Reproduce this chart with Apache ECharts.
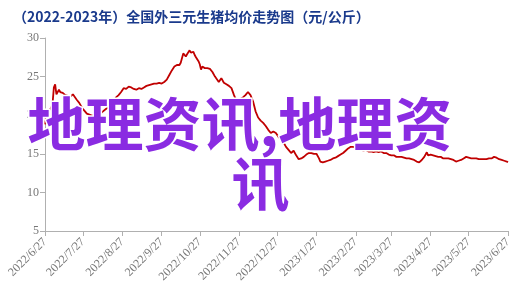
<!DOCTYPE html>
<html>
<head>
<meta charset="utf-8">
<script src="https://cdn.jsdelivr.net/npm/echarts@6/dist/echarts.min.js"></script>
<style>html,body{margin:0;padding:0;background:#fff}#c{width:518px;height:295px}</style>
</head>
<body>
<div id="c"></div>
<script>
const titleText = '（2022-2023年）全国外三元生猪均价走势图（元/公斤）';
const watermarkLine1 = '地理资讯,地理资';
const watermarkLine2 = '讯';
const tickLabels = ['2022/6/27','2022/7/27','2022/8/27','2022/9/27','2022/10/27','2022/11/27','2022/12/27','2023/1/27','2023/2/27','2023/3/27','2023/4/27','2023/5/27','2023/6/27'];
const dates = [
'2022/6/27','2022/6/28','2022/6/29','2022/6/30','2022/7/1','2022/7/2','2022/7/3','2022/7/4','2022/7/5','2022/7/6','2022/7/7','2022/7/8','2022/7/9','2022/7/10','2022/7/11','2022/7/12','2022/7/13','2022/7/15','2022/7/17','2022/7/19','2022/7/20','2022/7/22','2022/7/24','2022/7/26','2022/7/28','2022/7/30',
'2022/8/2','2022/8/5','2022/8/8','2022/8/11','2022/8/14','2022/8/17','2022/8/20','2022/8/22','2022/8/24','2022/8/26','2022/8/28','2022/8/30',
'2022/9/1','2022/9/3','2022/9/5','2022/9/7','2022/9/9','2022/9/11','2022/9/13','2022/9/15','2022/9/17','2022/9/19','2022/9/21','2022/9/23','2022/9/25','2022/9/27','2022/9/29',
'2022/10/1','2022/10/3','2022/10/5','2022/10/7','2022/10/9','2022/10/11','2022/10/12','2022/10/14','2022/10/15','2022/10/16','2022/10/17','2022/10/19','2022/10/20','2022/10/21','2022/10/22','2022/10/23','2022/10/24','2022/10/26','2022/10/27','2022/10/28','2022/10/29','2022/10/31',
'2022/11/2','2022/11/4','2022/11/6','2022/11/8','2022/11/9','2022/11/11','2022/11/12','2022/11/13','2022/11/15','2022/11/17','2022/11/19','2022/11/21','2022/11/23','2022/11/24','2022/11/26','2022/11/28','2022/11/30',
'2022/12/2','2022/12/4','2022/12/6','2022/12/8','2022/12/10','2022/12/12','2022/12/14','2022/12/16','2022/12/18','2022/12/20','2022/12/22','2022/12/24','2022/12/26','2022/12/28','2022/12/30',
'2023/1/1','2023/1/3','2023/1/5','2023/1/7','2023/1/9','2023/1/11','2023/1/13','2023/1/15','2023/1/17','2023/1/19','2023/1/21','2023/1/23','2023/1/25','2023/1/27','2023/1/29','2023/1/30',
'2023/2/1','2023/2/3','2023/2/5','2023/2/7','2023/2/9','2023/2/11','2023/2/13','2023/2/15','2023/2/17','2023/2/19','2023/2/21','2023/2/23','2023/2/25','2023/2/27',
'2023/3/1','2023/3/3','2023/3/5','2023/3/7','2023/3/9','2023/3/11','2023/3/13','2023/3/15','2023/3/17','2023/3/19','2023/3/21','2023/3/23','2023/3/25','2023/3/27','2023/3/29','2023/3/31',
'2023/4/2','2023/4/4','2023/4/6','2023/4/8','2023/4/10','2023/4/12','2023/4/14','2023/4/16','2023/4/18','2023/4/20','2023/4/22','2023/4/24','2023/4/25','2023/4/27','2023/4/29',
'2023/5/1','2023/5/3','2023/5/5','2023/5/7','2023/5/9','2023/5/11','2023/5/13','2023/5/15','2023/5/17','2023/5/19','2023/5/21','2023/5/23','2023/5/25','2023/5/27','2023/5/29','2023/5/31',
'2023/6/2','2023/6/4','2023/6/6','2023/6/8','2023/6/10','2023/6/12','2023/6/14','2023/6/16','2023/6/18','2023/6/20','2023/6/22','2023/6/24','2023/6/26','2023/6/27'
];
const prices = [
18.8,20.2,20.4,20.6,20.7,21.0,21.6,23.6,24.0,22.7,22.9,23.3,23.0,22.8,22.9,22.7,22.6,22.5,22.4,22.7,22.5,22.0,21.6,21.0,20.6,20.2,
20.0,19.9,20.1,20.4,20.8,21.3,21.8,22.3,22.6,23.0,23.5,23.4,
23.7,23.6,23.4,23.3,23.5,23.4,23.6,23.8,23.9,24.0,24.1,24.1,24.2,24.1,24.3,
24.6,25.2,25.8,26.3,26.5,26.5,26.8,28.0,27.8,27.6,27.9,28.4,28.1,28.0,28.2,27.8,27.5,27.0,26.6,25.9,26.3,26.1,
26.1,26.0,25.6,25.0,24.8,24.3,24.4,24.8,24.2,24.0,23.8,23.5,22.6,22.2,22.0,22.1,22.3,
22.6,23.0,22.6,21.8,20.5,19.7,19.3,19.0,18.6,18.1,17.7,17.9,17.7,17.2,16.9,
16.5,15.9,15.5,15.1,15.4,14.8,14.3,14.4,14.6,14.9,15.1,15.1,15.0,15.0,14.4,14.0,
13.9,14.0,14.1,14.2,14.4,14.5,14.7,14.9,15.1,15.4,15.7,15.9,15.9,15.8,
15.7,15.6,15.4,15.5,15.3,15.3,15.2,15.3,15.2,15.3,15.1,15.1,14.9,14.8,14.8,14.6,
14.6,14.6,14.5,14.4,14.4,14.3,14.2,14.0,13.9,14.2,14.6,15.2,14.8,14.9,14.8,
14.7,14.6,14.6,14.4,14.4,14.4,14.3,14.2,14.0,14.1,14.2,14.4,14.6,14.5,14.4,14.4,
14.4,14.3,14.3,14.3,14.3,14.4,14.4,14.6,14.5,14.3,14.2,14.1,14.0,13.9
];
const yMin = 5, yMax = 30, yStep = 5;

function toTs(s){ const p = s.split('/').map(Number); return Date.UTC(p[0], p[1]-1, p[2]); }
const tickTs = tickLabels.map(toTs);
const seriesData = dates.map((d,i)=>[toTs(d), prices[i]]);

const chart = echarts.init(document.getElementById('c'), null, {renderer:'canvas'});
chart.setOption({
  animation:false,
  backgroundColor:'#fff',
  title:{text:titleText,left:8,top:5,textStyle:{fontFamily:'Noto Sans CJK SC',fontWeight:'bold',fontSize:14,color:'#1a3a8c'}},
  grid:{left:45,right:10,top:38,bottom:64,containLabel:false},
  xAxis:{
    type:'value',min:tickTs[0],max:tickTs[tickTs.length-1],
    splitLine:{show:false},
    axisLine:{lineStyle:{color:'#b0b0b0',width:1}},
    axisTick:{show:true,customValues:tickTs,length:5,lineStyle:{color:'#b0b0b0'}},
    axisLabel:{customValues:tickTs,rotate:45,margin:9,color:'#777',fontFamily:'Liberation Serif',fontSize:12,
      formatter:function(v){const i=tickTs.indexOf(v);return i>=0?tickLabels[i]:'';}}
  },
  yAxis:{
    type:'value',min:yMin,max:yMax,interval:yStep,
    splitLine:{show:false},
    axisLine:{show:true,lineStyle:{color:'#b0b0b0',width:1}},
    axisTick:{show:true,length:5,lineStyle:{color:'#b0b0b0'}},
    axisLabel:{color:'#777',fontFamily:'Liberation Serif',fontSize:12,margin:6}
  },
  series:[{type:'line',data:seriesData,showSymbol:false,symbol:'none',lineStyle:{color:'#c00000',width:1.8},z:2}],
  graphic:[
    {type:'text',left:26,top:93,z:100,style:{text:watermarkLine1,fontFamily:'Noto Sans CJK SC',fontWeight:'bold',fontSize:58,fill:'#8a2be2',stroke:'#fff',lineWidth:3}},
    {type:'text',left:230,top:153,z:100,style:{text:watermarkLine2,fontFamily:'Noto Sans CJK SC',fontWeight:'bold',fontSize:58,fill:'#8a2be2',stroke:'#fff',lineWidth:3}}
  ]
});
</script>
</body>
</html>
